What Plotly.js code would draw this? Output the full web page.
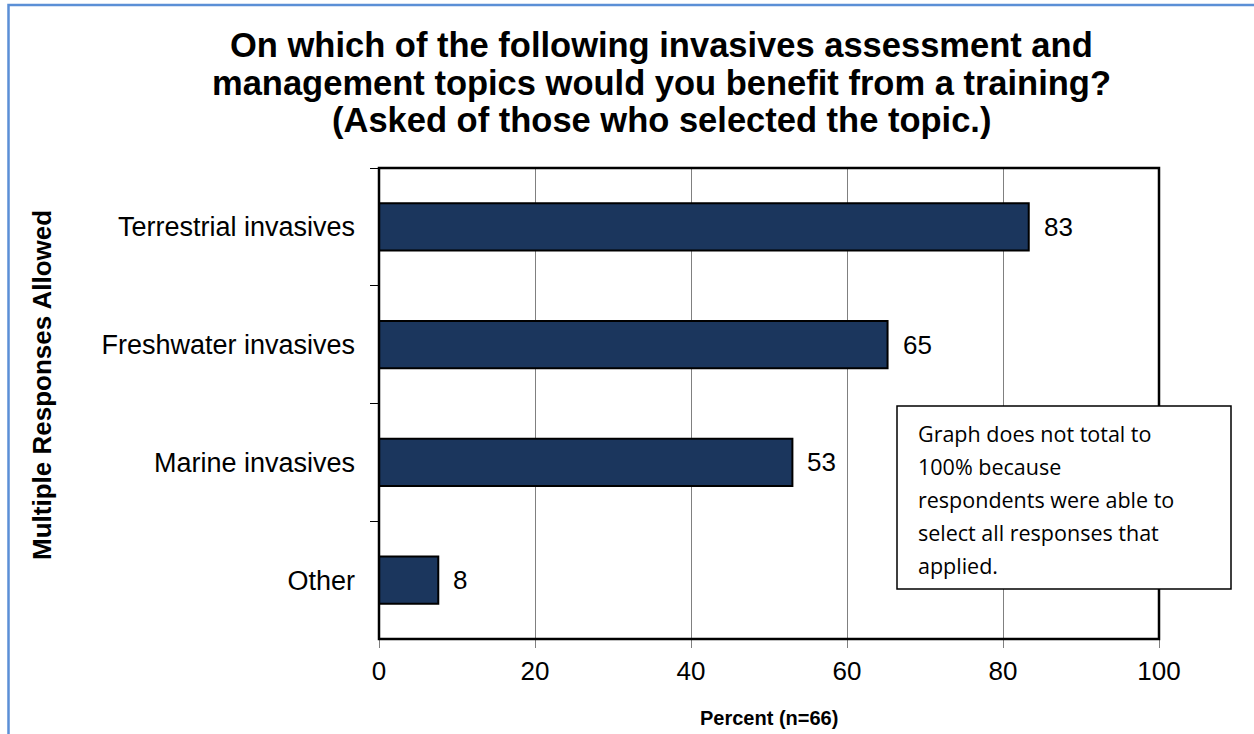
<!DOCTYPE html>
<html>
<head>
<meta charset="utf-8">
<script src="https://cdn.plot.ly/plotly-3.0.1.min.js"></script>
<style>html,body{margin:0;padding:0;background:#fff;}#chart{width:1254px;height:734px;}</style>
</head>
<body>
<div id="chart"></div>
<script>
// Data
const categories = ["Terrestrial invasives", "Freshwater invasives", "Marine invasives", "Other"];
const percents = [83.3, 65.2, 53.0, 7.6];
const labels = ["83", "65", "53", "8"];
const xTicks = [0, 20, 40, 60, 80, 100];
const titleLines = [
  "On which of the following invasives assessment and",
  "management topics would you benefit from a training?",
  "(Asked of those who selected the topic.)"
];
const noteLines = [
  "Graph does not total to",
  "100% because",
  "respondents were able to",
  "select all responses that",
  "applied."
];
const yTitle = "Multiple Responses Allowed";
const xTitle = "Percent (n=66)";

// Pixel -> paper helpers (plot area: x 379..1159, y 168..639)
const L = 379, R = 1159, T = 168, B = 639;
const px = v => (v - L) / (R - L);
const py = v => (B - v) / (B - T);

const FONT = "Liberation Sans, Arial, sans-serif";

const annotations = [];
titleLines.forEach((t, i) => {
  annotations.push({
    text: "<b>" + t + "</b>", xref: "paper", yref: "paper",
    x: px(661), y: py([45, 83, 120][i]), xanchor: "center", yanchor: "middle",
    showarrow: false, font: {family: FONT, size: 34.5, color: "#000"}
  });
});
annotations.push({
  text: "<b>" + yTitle + "</b>", xref: "paper", yref: "paper",
  x: px(42), y: py(385), xanchor: "center", yanchor: "middle", textangle: -90,
  showarrow: false, font: {family: FONT, size: 26, color: "#000"}
});
annotations.push({
  text: "<b>" + xTitle + "</b>", xref: "paper", yref: "paper",
  x: 0.5, y: py(718), xanchor: "center", yanchor: "middle",
  showarrow: false, font: {family: FONT, size: 20, color: "#000"}
});
categories.forEach((c, i) => {
  annotations.push({
    text: labels[i], x: percents[i], y: c, xref: "x", yref: "y",
    xanchor: "left", yanchor: "middle", xshift: 13, showarrow: false,
    font: {family: FONT, size: 26, color: "#000"}
  });
});
noteLines.forEach((t, i) => {
  annotations.push({
    text: t, xref: "paper", yref: "paper",
    x: px(916), y: py(433 + 33 * i), xanchor: "left", yanchor: "middle",
    showarrow: false, font: {family: "Open Sans, sans-serif", size: 21.5, color: "#000"}
  });
});

const data = [{
  type: "bar", orientation: "h",
  x: percents, y: categories,
  width: 0.4,
  marker: {color: "#1b365d", line: {color: "#000", width: 2}},
  hoverinfo: "none"
}];

const layout = {
  width: 1254, height: 734,
  paper_bgcolor: "#fff", plot_bgcolor: "#fff",
  margin: {l: L, r: 1254 - R, t: T, b: 734 - B, pad: 0},
  showlegend: false,
  font: {family: FONT, color: "#000"},
  xaxis: {
    range: [0, 100], tickvals: xTicks, ticktext: xTicks.map(String),
    showgrid: true, gridcolor: "#808080", gridwidth: 1,
    zeroline: false, showline: false,
    ticks: "outside", ticklen: 8, tickcolor: "#808080", tickwidth: 1,
    ticklabelstandoff: 1,
    tickfont: {family: FONT, size: 26, color: "#000"},
    fixedrange: true
  },
  yaxis: {
    type: "category", autorange: "reversed",
    showgrid: false, zeroline: false, showline: false,
    ticks: "outside", tickson: "boundaries", ticklen: 8, tickcolor: "#000", tickwidth: 1,
    ticklabelstandoff: 23,
    tickfont: {family: FONT, size: 27, color: "#000"},
    fixedrange: true
  },
  shapes: [
    {type: "rect", xref: "paper", yref: "paper", x0: 0, x1: 1, y0: 0, y1: 1,
     line: {color: "#000", width: 2.5}, layer: "above"},
    {type: "rect", xref: "paper", yref: "paper", x0: px(897), x1: px(1231), y0: py(589), y1: py(406),
     fillcolor: "#fff", line: {color: "#000", width: 1.5}, layer: "above"},
    {type: "path", xref: "paper", yref: "paper",
     path: "M " + px(8.5) + " " + py(745) + " L " + px(8.5) + " " + py(5) + " L " + px(1265) + " " + py(5),
     line: {color: "#5b8fd6", width: 2.5}, layer: "above"}
  ],
  annotations: annotations
};

Plotly.newPlot("chart", data, layout, {staticPlot: true, displayModeBar: false});
</script>
</body>
</html>
